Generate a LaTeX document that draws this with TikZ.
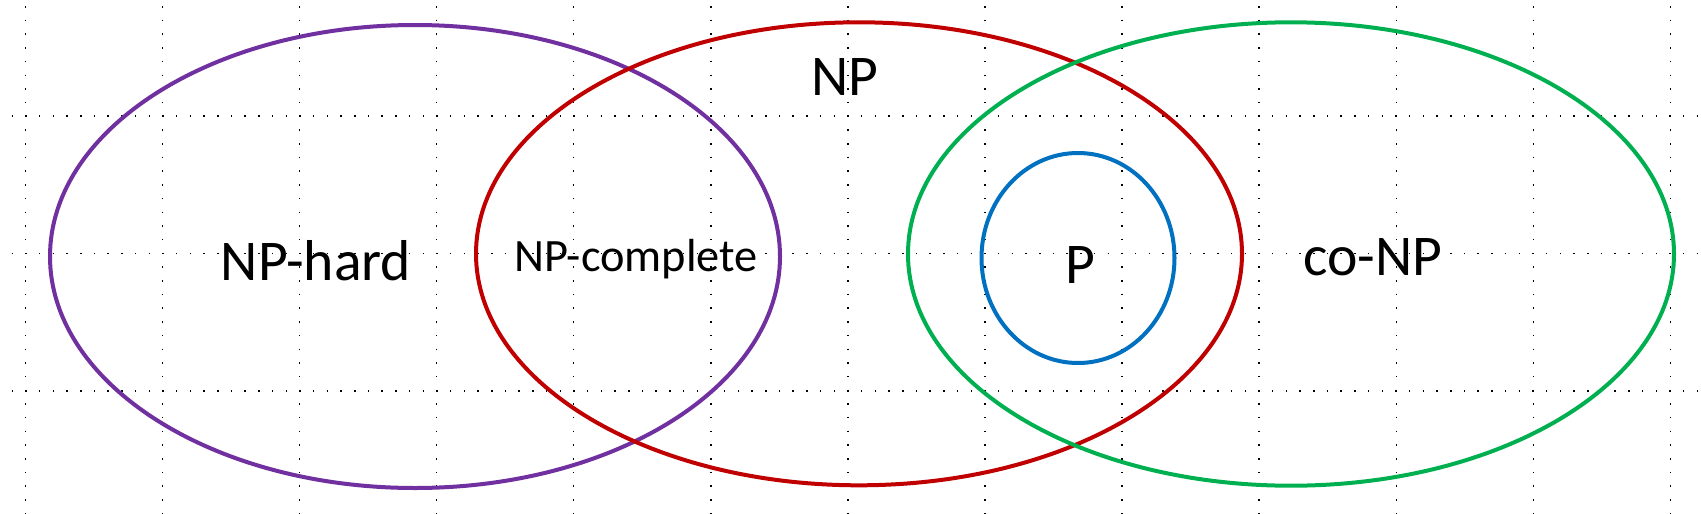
\documentclass[tikz,border=0pt]{standalone}
\usepackage{fontspec}
\setmainfont{Carlito}
\usetikzlibrary{positioning, calc, math}
\definecolor{hardcol}{HTML}{7030A0}
\definecolor{npcol}{HTML}{C00000}
\definecolor{concol}{HTML}{00B050}
\definecolor{pcol}{HTML}{0070C0}
\tikzset{
  griddots/.style={color=black, line width=0.15mm, dash pattern=on 0.15mm off 1.22mm},
  classset/.style={line width=0.4mm},
  biglbl/.style={anchor=base, inner sep=0pt, font=\fontsize{16.4}{19}\selectfont},
  smalllbl/.style={anchor=base, inner sep=0pt, font=\fontsize{13.2}{16}\selectfont}
}
\begin{document}
\begin{tikzpicture}[x=0.1mm, y=-0.1mm]
      \fill[white] (0,0) rectangle (1701,513);
      \useasboundingbox (0,0) rectangle (1701,513);
      \foreach \i in {0,1,...,12} {
        \tikzmath{\gx=25.3+137.1*\i;}
        \draw[griddots] (\gx,6) -- (\gx,513);
      }
      \foreach \gy in {116,253.5,391} {
        \draw[griddots] (11.6,\gy) -- (1701,\gy);
      }
      \draw[classset, color=hardcol] (415,256.5) ellipse [x radius=365, y radius=231.5];
      \draw[classset, color=npcol] (859,253.8) ellipse [x radius=383, y radius=231.5];
      \draw[classset, color=concol] (1291,254) ellipse [x radius=383, y radius=231.7];
      \draw[classset, color=pcol] (1078,258) ellipse [x radius=96.5, y radius=105];
      \node[biglbl] (hardlbl) at (316,280) {NP-hard};
      \node[smalllbl] (completelbl) at (636,271.7) {NP-complete};
      \node[biglbl] (nplbl) at (845,95) {NP};
      \node[biglbl] (plbl) at (1080,283) {P};
      \node[biglbl] (conplbl) at (1373,275) {co-NP};
\end{tikzpicture}
\end{document}
